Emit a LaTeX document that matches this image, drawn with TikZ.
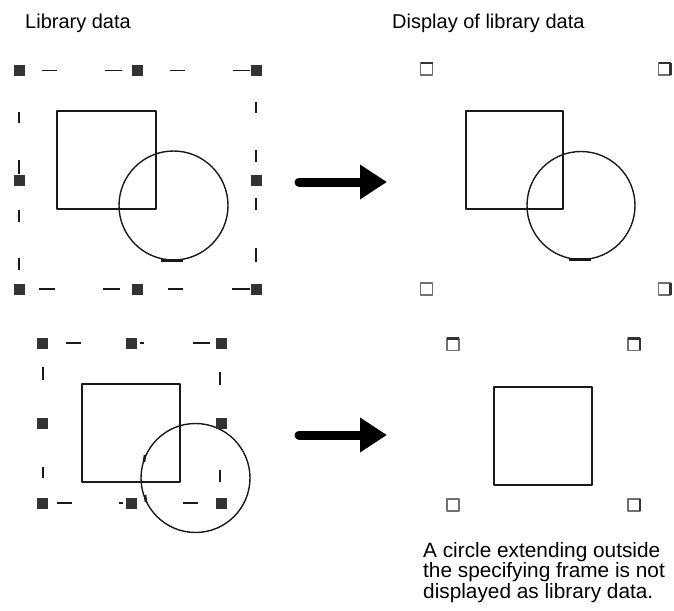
\documentclass[tikz,border=0pt]{standalone}
\usepackage{fontspec}
\setmainfont{Liberation Sans}
\usetikzlibrary{arrows.meta}
\definecolor{gripdark}{HTML}{333333}
\definecolor{gripgray}{HTML}{707070}
\definecolor{inkline}{HTML}{1A1A1A}

\begin{document}
\begin{tikzpicture}[
  x=1pt,
  y=-1pt,
  line join=round,
  libline/.style={draw=inkline,line width=1.7pt},
  libring/.style={draw=inkline,line width=1.4pt},
  framedash/.style={draw=inkline,line width=1.8pt},
  grip/.style={fill=gripdark},
  gripopen/.style={draw=gripgray,line width=1.6pt,fill=white},
  gripedge/.style={draw=gripdark,line width=2.4pt},
  bigarrow/.style={draw=black,line width=9pt,line cap=round,-{Triangle[length=27pt,width=33pt]}},
  caption/.style={font=\fontsize{20}{20}\selectfont,inner sep=0pt}
]
  \useasboundingbox (0,0) rectangle (674,610);

  % Headings.
  \node[caption,anchor=base west] (libhead) at (25,28.5) {Library data};
  \node[caption,anchor=base west] (disphead) at (392,28.5) {Display of library data};

  % Upper library data: dashed frame with eight grips.
  \foreach \xa/\ya/\xb/\yb in {42/70.5/57/70.5, 105/70.5/122/70.5, 170/70.5/185/70.5, 233/70.5/250/70.5,
      39/289/55/289, 103/289/120/289, 168/289/183/289, 232/289/250/289,
      19/112/19/123, 19/160/19/174, 19/210/19/222, 19/258/19/270,
      256/102/256/113, 256/150/256/162, 256/198/256/210, 256/248/256/262} {
    \draw[framedash] (\xa,\ya) -- (\xb,\yb);
  }
  \foreach \x/\y in {19/70.5, 137.5/70.5, 256/70.5, 19/180, 256/180, 19/289, 137.5/289, 256/289} {
    \fill[grip] (\x-5.5,\y-5.5) rectangle ++(11,11);
  }
  \draw[libline] (57,111) rectangle (156,209);
  \draw[libring] (173.5,205.5) circle[radius=54.5pt];
  \draw[line width=3pt,inkline] (161,260) -- (183,260);

  % Upper display: everything fits inside the frame.
  \foreach \x/\y in {426.5/69, 664.5/69, 426.5/289, 664.5/289} {
    \draw[gripopen] (\x-6,\y-6) rectangle ++(12,12);
  }
  \foreach \x in {426.5,664.5} {
    \draw[gripedge] (\x-6,69-6) -- (\x+6,69-6);
  }
  \foreach \y in {69,289} {
    \draw[gripedge] (664.5+6,\y-6) -- (664.5+6,\y+6);
  }
  \draw[libline] (466,111) rectangle (563,209);
  \draw[libring] (581,205.5) circle[radius=54pt];
  \draw[line width=3pt,inkline] (569,259.5) -- (591,259.5);

  % Lower library data: the circle runs past the frame.
  \foreach \xa/\ya/\xb/\yb in {66/343/81/343, 140/343/144/343, 193/343/210/343,
      57/503/72/503, 119/503/123/503, 183/503/198/503,
      43/367/43/380, 43/467/43/478, 220/372/220/385, 220/470/220/482} {
    \draw[framedash] (\xa,\ya) -- (\xb,\yb);
  }
  \draw[libline] (82,384) rectangle (180,482);
  \draw[libring] (195.5,478) circle[radius=54.5pt];
  \draw[line width=2.6pt,inkline] (145,455) -- (144,462);
  \draw[line width=2.6pt,inkline] (145,495) -- (146,502);
  \foreach \x/\y in {42.7/343, 131/343, 221/343, 42.7/423, 221/423, 42.7/503, 131/503, 221/503} {
    \fill[grip] (\x-5.5,\y-5.5) rectangle ++(11,11);
  }

  % Lower display: only the square is kept.
  \foreach \x/\y in {452.7/344.3, 634/344.3, 452.7/505, 634/505} {
    \draw[gripopen] (\x-6,\y-6) rectangle ++(12,12);
  }
  \foreach \x in {452.7,634} {
    \draw[gripedge] (\x-6,344.3-6) -- (\x+6,344.3-6);
  }
  \foreach \y in {344.3,505} {
    \draw[gripedge] (634+6,\y-6) -- (634+6,\y+6);
  }
  \draw[libline] (494,387) rectangle (592,485);

  % Arrows between the panels.
  \coordinate (upfrom) at (299,182);
  \coordinate (upto) at (387,182);
  \coordinate (lowfrom) at (299,435);
  \coordinate (lowto) at (387,435);
  \draw[bigarrow] (upfrom) -- (upto);
  \draw[bigarrow] (lowfrom) -- (lowto);

  % Note under the lower display.
  \node[caption,anchor=north west,align=left,font=\fontsize{20.8}{20.5}\selectfont] (note) at (423,542)
    {A circle extending outside\\the specifying frame is not\\displayed as library data.};
\end{tikzpicture}
\end{document}
